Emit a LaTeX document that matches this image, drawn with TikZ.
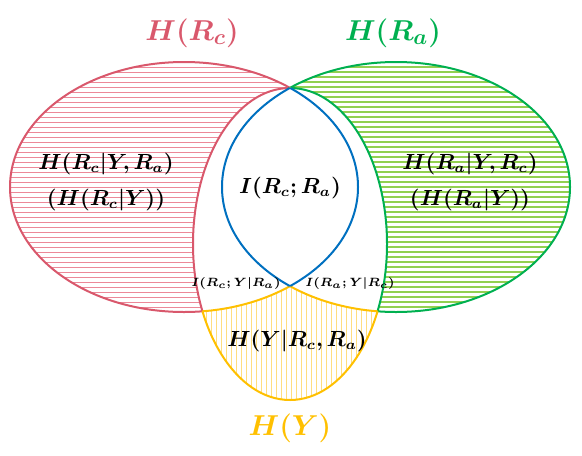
\documentclass[tikz,border=0pt]{standalone}
\usepackage{bm}
\usepackage{tikz}
\definecolor{rcRed}{HTML}{D9586C}
\definecolor{rcPink}{HTML}{EC8898}
\definecolor{raGreen}{HTML}{00B050}
\definecolor{raLime}{HTML}{92D050}
\definecolor{yGold}{HTML}{FFC000}
\definecolor{yPale}{HTML}{FFDD80}
\definecolor{miBlue}{HTML}{0070C0}

% the three sets (pixel units)
\newcommand{\rcset}{(184,187) ellipse [x radius=174, y radius=125]}
\newcommand{\raset}{(396,187) ellipse [x radius=174, y radius=125]}
\newcommand{\yset}{(290,244) ellipse [x radius=97, y radius=156]}
\newcommand{\outside}{(-20,-20) rectangle (620,480)}

\begin{document}
\begin{tikzpicture}[x=0.5pt, y=-0.5pt,
        rcline/.style={draw=rcRed, line width=1pt},
        raline/.style={draw=raGreen, line width=1pt},
        yline/.style={draw=yGold, line width=1pt},
        miline/.style={draw=miBlue, line width=1pt},
        rchatch/.style={draw=rcPink, line width=0.5pt},
        rahatch/.style={draw=raLime, line width=0.55pt},
        yhatch/.style={draw=yPale, line width=0.5pt},
        lbl/.style={font=\fontsize{10.5}{12}\selectfont, align=center},
        small/.style={font=\fontsize{5.6}{7}\selectfont},
        title/.style={font=\fontsize{15}{18}\selectfont}]
        \useasboundingbox (0,0) rectangle (582,455);

        % Hatching: Rc only
        \begin{scope}[even odd rule]
            \clip \rcset;
            \clip \outside \yset;
            \foreach \y in {62,67,...,312} \draw[rchatch] (0,\y) -- (400,\y);
        \end{scope}
        % Hatching: Ra only
        \begin{scope}[even odd rule]
            \clip \raset;
            \clip \outside \yset;
            \foreach \y in {62,67,...,312} \draw[rahatch] (180,\y) -- (582,\y);
        \end{scope}
        % Hatching: Y only
        \begin{scope}[even odd rule]
            \clip \yset;
            \clip \outside \rcset;
            \clip \outside \raset;
            \foreach \x in {196,201,...,390} \draw[yhatch] (\x,270) -- (\x,410);
        \end{scope}

        % Outlines: Rc
        \begin{scope}[even odd rule]
            \clip \outside \yset;
            \draw[rcline] \rcset;
        \end{scope}
        \begin{scope}[even odd rule]
            \clip \rcset;
            \clip \outside \raset;
            \draw[rcline] \yset;
        \end{scope}
        % Outlines: Ra
        \begin{scope}[even odd rule]
            \clip \outside \yset;
            \draw[raline] \raset;
        \end{scope}
        \begin{scope}[even odd rule]
            \clip \raset;
            \clip \outside \rcset;
            \draw[raline] \yset;
        \end{scope}
        % Outlines: Y
        \begin{scope}[even odd rule]
            \clip \outside \rcset;
            \clip \outside \raset;
            \draw[yline] \yset;
        \end{scope}
        \begin{scope}[even odd rule]
            \clip \yset;
            \clip \outside \raset;
            \draw[yline] \rcset;
        \end{scope}
        \begin{scope}[even odd rule]
            \clip \yset;
            \clip \outside \rcset;
            \draw[yline] \raset;
        \end{scope}
        % Outlines: mutual information lens
        \begin{scope}
            \clip \raset;
            \draw[miline] \rcset;
        \end{scope}
        \begin{scope}
            \clip \rcset;
            \draw[miline] \raset;
        \end{scope}

        % Labels
        \node[title, text=rcRed] (hrc) at (192,33) {$\bm{H(R_c)}$};
        \node[title, text=raGreen] (hra) at (393,33) {$\bm{H(R_a)}$};
        \node[title, text=yGold] (hy) at (290,428) {$\bm{H(Y)}$};
        \node[lbl] (rconly) at (106,182) {$\bm{H(R_c|Y,R_a)}$\\[6pt]$\bm{(H(R_c|Y))}$};
        \node[lbl] (raonly) at (470,182) {$\bm{H(R_a|Y,R_c)}$\\[6pt]$\bm{(H(R_a|Y))}$};
        \node[lbl] (mi) at (290,188) {$\bm{I(R_c;R_a)}$};
        \node[lbl] (yonly) at (297,341) {$\bm{H(Y|R_c,R_a)}$};
        \node[small] (icy) at (236,283) {$\bm{I(R_c;Y|R_a)}$};
        \node[small] (iay) at (350,283) {$\bm{I(R_a;Y|R_c)}$};
    \end{tikzpicture}
\end{document}
